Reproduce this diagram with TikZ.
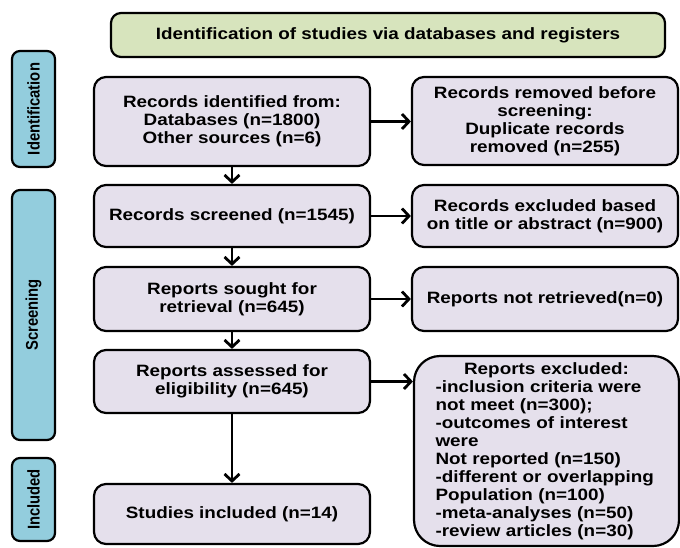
\documentclass[tikz,border=0pt]{standalone}
\usepackage{fontspec}
\setmainfont{Liberation Sans}[FakeStretch=1.15]
\newfontfamily\barfont{Liberation Sans}
\usetikzlibrary{arrows.meta}
\definecolor{boxfill}{HTML}{E5E0EC}
\definecolor{headfill}{HTML}{D7E4BD}
\definecolor{barfill}{HTML}{93CDDD}
\tikzset{
  base/.style={draw=black, line width=2.2pt, rounded corners=12pt, align=center, inner sep=2pt,
    font=\fontsize{16.4}{18}\selectfont\bfseries},
  flowbox/.style={base, fill=boxfill},
  headbox/.style={base, fill=headfill, rounded corners=10pt},
  sidebar/.style={base, fill=barfill, rounded corners=8pt, rotate=90,
    font=\barfont\fontsize{14.8}{17}\selectfont\bfseries},
  conn/.style={line width=2.8pt, -{Straight Barb[length=7pt,width=15pt]}}
}
\newcommand{\bartext}[1]{\scalebox{1}[1.15]{#1}}
\begin{document}
\begin{tikzpicture}[x=1pt,y=-1pt]
\useasboundingbox[fill=white] (0,0) rectangle (680,547);

\node[headbox, minimum width=554, minimum height=44] (head) at (388,35)
  {Identification of studies via databases and registers};

\node[sidebar, minimum width=116, minimum height=43] (ident) at (33.5,109) {\bartext{Identification}};
\node[sidebar, minimum width=250, minimum height=43] (screen) at (33.5,315) {\bartext{Screening}};
\node[sidebar, minimum width=83, minimum height=43] (incl) at (33.5,499.5) {\bartext{Included}};

\node[flowbox, minimum width=276, minimum height=89] (b1) at (232,121.5)
  {Records identified from:\\Databases (n=1800)\\Other sources (n=6)};
\node[flowbox, minimum width=276, minimum height=62] (b2) at (232,216)
  {Records screened (n=1545)};
\node[flowbox, minimum width=276, minimum height=64] (b3) at (232,299)
  {Reports sought for\\retrieval (n=645)};
\node[flowbox, minimum width=276, minimum height=63] (b4) at (232,381.5)
  {Reports assessed for\\eligibility (n=645)};
\node[flowbox, minimum width=276, minimum height=60] (b5) at (232,514)
  {Studies included (n=14)};

\node[flowbox, minimum width=266, minimum height=88] (r1) at (545,121)
  {Records removed before\\screening:\\Duplicate records\\removed (n=255)};
\node[flowbox, minimum width=266, minimum height=62] (r2) at (545,216)
  {Records excluded based\\on title or abstract (n=900)};
\node[flowbox, minimum width=266, minimum height=64] (r3) at (545,299)
  {Reports not retrieved(n=0)};
\node[flowbox, rounded corners=26pt, minimum width=265, minimum height=190,
  text width=222, align=left] (r4) at (546.5,451)
  {\makebox[\linewidth][c]{Reports excluded:}\\
   -inclusion criteria were\\
   not meet (n=300);\\
   -outcomes of interest\\
   were\\
   Not reported (n=150)\\
   -different or overlapping\\
   Population (n=100)\\
   -meta-analyses (n=50)\\
   -review articles (n=30)};

\draw[conn] (b1.south) -- (b2.north);
\draw[conn] (b2.south) -- (b3.north);
\draw[conn] (b3.south) -- (b4.north);
\draw[conn] (b4.south) -- (b5.north);
\draw[conn] (b1.east) -- (b1.east -| r1.west);
\draw[conn] (b2.east) -- (b2.east -| r2.west);
\draw[conn] (b3.east) -- (b3.east -| r3.west);
\draw[conn] (b4.east) -- (b4.east -| r4.west);
\end{tikzpicture}
\end{document}
